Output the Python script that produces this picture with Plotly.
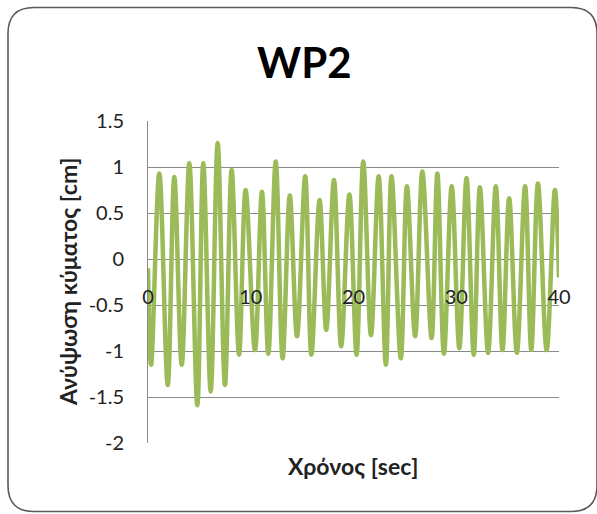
import plotly.graph_objects as go

# ---- data ----
time_s = [0, 0.3, 1.1, 1.92, 2.56, 3.28, 4.02, 4.8, 5.38, 6.1, 6.78, 7.49, 8.14, 8.86, 9.5,
          10.41, 11.09, 11.71, 12.43, 13.1, 13.8, 14.5, 15.3, 15.9, 16.7, 17.35, 18.1, 18.8,
          19.6, 20.3, 20.95, 21.7, 22.45, 23.15, 23.7, 24.6, 25.2, 26.0, 26.7, 27.6, 28.16,
          28.8, 29.56, 30.3, 31.0, 31.7, 32.3, 33.1, 33.85, 34.5, 35.15, 35.9, 36.7, 37.3,
          37.95, 38.8, 39.6, 40.0]
wave_cm = [-0.1, -1.15, 0.93, -1.37, 0.89, -1.15, 1.04, -1.59, 1.04, -1.44, 1.26, -1.37,
           0.97, -1.04, 0.75, -0.99, 0.73, -1.03, 1.06, -1.08, 0.69, -0.84, 0.90, -1.04,
           0.64, -0.77, 0.86, -0.95, 0.70, -1.04, 1.06, -0.83, 0.90, -1.15, 0.90, -1.08,
           0.79, -0.84, 0.95, -0.86, 0.93, -1.03, 0.79, -0.97, 0.88, -1.04, 0.78, -1.02,
           0.79, -0.99, 0.66, -1.02, 0.79, -0.99, 0.82, -0.99, 0.75, -0.2]
y_tick_vals = [-2, -1.5, -1, -0.5, 0, 0.5, 1, 1.5]
y_tick_text = ["-2", "-1.5", "-1", "-0.5", "0", "0.5", "1", "1.5"]
x_tick_vals = [0, 10, 20, 30, 40]
x_tick_text = ["0", "10", "20", "30", "40"]

title_text = "WP2"
x_title = "Χρόνος [sec]"
y_title = "Ανύψωση κύματος [cm]"

# ---- geometry ----
W, H = 597, 514
L, R, T, B = 148, 559, 121, 443


def px(x):
    return (x - L) / (R - L)


def py(y):
    return (B - y) / (B - T)


FONT = "Lato, 'Open Sans', sans-serif"

fig = go.Figure()
fig.add_trace(go.Scatter(
    x=time_s, y=wave_cm, mode="lines",
    line=dict(color="#9BBB59", width=4.5, shape="spline", smoothing=1.0),
    hoverinfo="skip", showlegend=False,
))

# rounded outer border
x0, y0, x1, y1, r = 8, 7.5, 597, 511.5, 26
path = (f"M {px(x0 + r)},{py(y0)} L {px(x1 - r)},{py(y0)} "
        f"Q {px(x1)},{py(y0)} {px(x1)},{py(y0 + r)} "
        f"L {px(x1)},{py(y1 - r)} Q {px(x1)},{py(y1)} {px(x1 - r)},{py(y1)} "
        f"L {px(x0 + r)},{py(y1)} Q {px(x0)},{py(y1)} {px(x0)},{py(y1 - r)} "
        f"L {px(x0)},{py(y0 + r)} Q {px(x0)},{py(y0)} {px(x0 + r)},{py(y0)} Z")
fig.add_shape(type="path", path=path, xref="paper", yref="paper",
              line=dict(color="#5a5a5a", width=1.6), layer="below")

fig.update_layout(
    width=W, height=H,
    margin=dict(l=L, r=W - R, t=T, b=H - B, pad=0),
    paper_bgcolor="white", plot_bgcolor="white",
    font=dict(family=FONT, color="#222222", size=18),
    xaxis=dict(range=[0, 40], tickvals=x_tick_vals, ticktext=x_tick_text,
               showgrid=False, zeroline=False, showline=False,
               anchor="free", position=py(259),
               ticks="outside", ticklen=20, tickcolor="rgba(0,0,0,0)",
               tickfont=dict(size=20, family=FONT, color="#222222")),
    yaxis=dict(range=[-2, 1.5], tickvals=y_tick_vals, ticktext=y_tick_text,
               showgrid=True, gridcolor="#8a8a8a", gridwidth=1,
               zeroline=False, showline=True, linecolor="#8a8a8a", linewidth=1,
               ticks="outside", ticklen=19, tickcolor="rgba(0,0,0,0)",
               tickfont=dict(size=20, family=FONT, color="#222222")),
    annotations=[
        dict(text=f"<b>{title_text}</b>", x=px(304), y=py(62), xref="paper", yref="paper",
             showarrow=False, xanchor="center", yanchor="middle",
             font=dict(size=42, family=FONT, color="#000000")),
        dict(text=f"<b>{x_title}</b>", x=px(353), y=py(466), xref="paper", yref="paper",
             showarrow=False, xanchor="center", yanchor="middle",
             font=dict(size=23, family=FONT, color="#222222")),
        dict(text=f"<b>{y_title}</b>", x=px(68), y=py(282), xref="paper", yref="paper",
             showarrow=False, xanchor="center", yanchor="middle", textangle=-90,
             font=dict(size=23, family=FONT, color="#222222")),
    ],
)

fig.write_html("out.html", config={"displayModeBar": False},
               post_script="document.body.style.margin='0';document.body.style.padding='0';")
